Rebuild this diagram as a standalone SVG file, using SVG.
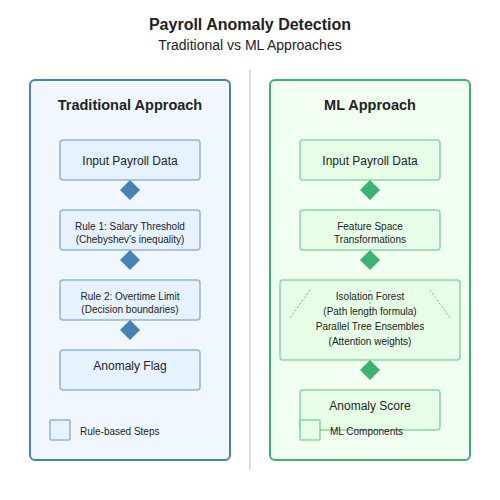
<svg xmlns="http://www.w3.org/2000/svg" width="500" height="500" viewBox="0 0 500 500">
<style>
text{font-family:"Liberation Sans",Arial,sans-serif;fill:#222;text-anchor:middle}
.title{font-size:16px;font-weight:bold}
.sub{font-size:14px}
.head{font-size:14.5px;font-weight:bold}
.t12{font-size:12px}
.t10{font-size:10px}
.leg{font-size:10px;text-anchor:start}
.tbox{fill:#e6f2ff;stroke:#4682b4;stroke-opacity:0.55;stroke-width:1.5}
.mbox{fill:#e6ffe6;stroke:#3cb371;stroke-opacity:0.55;stroke-width:1.5}
.td{fill:#4682b4}
.md{fill:#3cb371}
.dot{stroke:#3cb371;stroke-opacity:0.85;stroke-width:1;stroke-dasharray:2,2;fill:none}
</style>
<rect width="500" height="500" fill="#ffffff"/>
<text class="title" x="250" y="30">Payroll Anomaly Detection</text>
<text class="sub" x="250" y="50">Traditional vs ML Approaches</text>
<line x1="250" y1="70" x2="250" y2="470" stroke="#dddddd" stroke-width="2"/>
<g id="traditional-panel">
<rect x="30" y="80" width="200" height="380" rx="5" fill="#f0f7ff" stroke="#4682b4" stroke-width="2"/>
<text class="head" x="130" y="110">Traditional Approach</text>
</g>
<g id="ml-panel">
<rect x="270" y="80" width="200" height="380" rx="5" fill="#f0fff0" stroke="#3cb371" stroke-width="2"/>
<text class="head" x="370" y="110">ML Approach</text>
</g>
<g id="connectors">
<polygon class="td" points="130,180 140,190 130,200 120,190"/>
<polygon class="td" points="130,250 140,260 130,270 120,260"/>
<polygon class="td" points="130,320 140,330 130,340 120,330"/>
<polygon class="md" points="370,180 380,190 370,200 360,190"/>
<polygon class="md" points="370,250 380,260 370,270 360,260"/>
<polygon class="md" points="370,360 380,370 370,380 360,370"/>
</g>
<g id="t-input">
<rect class="tbox" x="60" y="140" width="140" height="40" rx="3"/>
<text class="t12" x="130" y="165">Input Payroll Data</text>
</g>
<g id="t-rule1">
<rect class="tbox" x="60" y="210" width="140" height="40" rx="3"/>
<text class="t10" x="130" y="230">Rule 1: Salary Threshold</text>
<text class="t10" x="130" y="243">(Chebyshev's inequality)</text>
</g>
<g id="t-rule2">
<rect class="tbox" x="60" y="280" width="140" height="40" rx="3"/>
<text class="t10" x="130" y="300">Rule 2: Overtime Limit</text>
<text class="t10" x="130" y="313">(Decision boundaries)</text>
</g>
<g id="t-flag">
<rect class="tbox" x="60" y="350" width="140" height="40" rx="3"/>
<text class="t12" x="130" y="370">Anomaly Flag</text>
</g>
<g id="t-legend">
<rect class="tbox" x="50" y="420" width="20" height="20" rx="1"/>
<text class="leg" x="80" y="435">Rule-based Steps</text>
</g>
<g id="m-input">
<rect class="mbox" x="300" y="140" width="140" height="40" rx="3"/>
<text class="t12" x="370" y="165">Input Payroll Data</text>
</g>
<g id="m-feature">
<rect class="mbox" x="300" y="210" width="140" height="40" rx="3"/>
<text class="t10" x="370" y="230">Feature Space</text>
<text class="t10" x="370" y="243">Transformations</text>
</g>
<g id="m-models">
<rect class="mbox" x="280" y="280" width="180" height="80" rx="3"/>
<line class="dot" x1="310" y1="290" x2="290" y2="318"/>
<line class="dot" x1="370" y1="290" x2="370" y2="318"/>
<line class="dot" x1="430" y1="290" x2="450" y2="318"/>
<text class="t10" x="370" y="300">Isolation Forest</text>
<text class="t10" x="370" y="315">(Path length formula)</text>
<text class="t10" x="370" y="330">Parallel Tree Ensembles</text>
<text class="t10" x="370" y="345">(Attention weights)</text>
</g>
<g id="m-score">
<rect class="mbox" x="300" y="390" width="140" height="40" rx="3"/>
<text class="t12" x="370" y="410">Anomaly Score</text>
</g>
<g id="m-legend">
<rect class="mbox" x="300" y="420" width="20" height="20" rx="1"/>
<text class="leg" x="330" y="435">ML Components</text>
</g>
</svg>
